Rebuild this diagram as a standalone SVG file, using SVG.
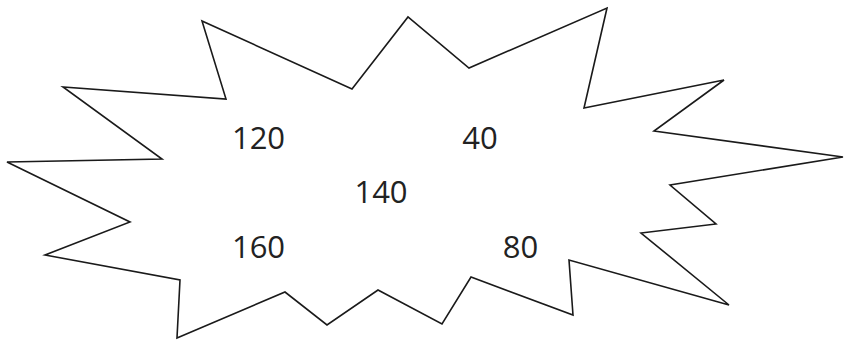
<svg xmlns="http://www.w3.org/2000/svg" width="845" height="340" viewBox="0 0 845 340">
<style>
.shape{fill:#fff;stroke:#1a1a1a;stroke-width:1.6;stroke-linejoin:miter}
.lbl{font-family:"Open Sans","Noto Sans",sans-serif;font-size:31px;fill:#222;text-anchor:middle}
</style>
<rect width="845" height="340" fill="#fff"/>
<g id="burst">
<polygon class="shape" points="7,162 162,159 63,87 226,99 202,21 352,89 408,17 469,68 607,8 584,108 724,80 654,131 843,157 670,185 716,224 641,233 729,305 569,260 573,315 471,277 442,324 378,290 327,325 285,292 177,338 180,280 45,255 130,222"/>
</g>
<g id="labels">
<text class="lbl" x="258.5" y="149">120</text>
<text class="lbl" x="480" y="149">40</text>
<text class="lbl" x="381" y="203">140</text>
<text class="lbl" x="258.5" y="258">160</text>
<text class="lbl" x="520.5" y="258">80</text>
</g>
</svg>
